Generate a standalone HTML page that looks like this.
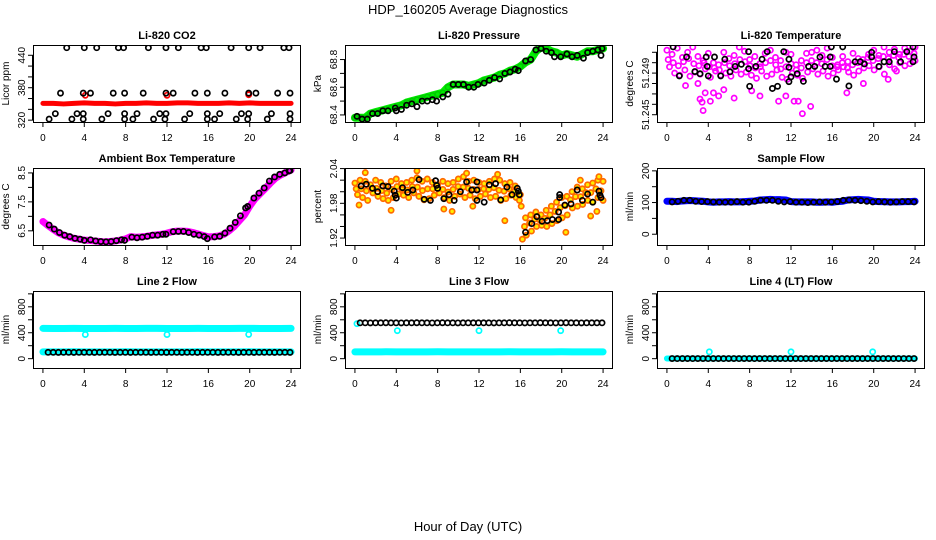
<!DOCTYPE html>
<html><head><meta charset="utf-8">
<style>
body{margin:0;background:#fff;}
svg{display:block;font-family:"Liberation Sans",Arial,sans-serif;}
</style></head>
<body>
<svg id="chart" width="936" height="540" viewBox="0 0 936 540" xmlns="http://www.w3.org/2000/svg">
<rect width="936" height="540" fill="#fff"/>
<text x="468" y="14" text-anchor="middle" font-size="13">HDP_160205  Average Diagnostics</text>
<text x="468" y="531" text-anchor="middle" font-size="13">Hour of Day (UTC)</text>
</svg>
<script>
// ---------- data ----------
const xTicks=[0,4,8,12,16,20,24];
// CO2
const co2BlackX=[2.3,4.0,5.2,7.3,7.8,10.2,11.9,13.1,15.3,15.8,18.2,19.9,21.0,23.3,23.8,
 1.7,3.9,4.6,6.8,7.9,9.7,11.9,12.6,14.7,15.9,17.6,19.9,20.6,22.7,23.9,
 1.2,3.3,3.9,6.3,7.9,9.1,11.3,11.9,14.2,15.9,17.1,19.2,19.9,22.1,23.9,
 0.6,2.8,3.9,5.7,7.9,8.7,10.7,11.8,13.7,15.9,16.6,18.7,19.8,21.7,23.9];
const co2BlackY=[454,454,454,454,454,454,454,454,454,454,454,454,454,454,454,
 370,370,370,370,370,370,370,370,370,370,370,370,370,370,370,
 332,332,332,332,332,332,332,332,332,332,332,332,332,332,332,
 322,322,322,322,322,322,322,322,322,322,322,322,322,322,322];
const co2Red=[351,351,350,351,352,351,351,350,351,351,352,351,351,352,352,351,351,351,352,351,352,351,351,351,351];
const co2RedSpikeX=[4.1,12.0,19.9];
const co2RedSpikeY=[366,366,367];
// Pressure
const presBlackX=[0.2,0.7,1.2,1.7,2.2,2.7,3.2,3.9,4.0,4.5,5.0,5.5,6.0,6.5,7.0,7.5,7.9,8.5,9.0,9.5,10.0,10.5,11.0,11.5,11.9,12.5,13.0,13.5,14.0,14.5,15.0,15.5,15.8,16.5,17.0,17.5,18.0,18.5,19.0,19.3,19.9,20.5,21.0,21.5,22.1,22.5,23.0,23.5,23.8,23.9];
const presBlackY=[68.39,68.37,68.37,68.41,68.41,68.43,68.43,68.45,68.43,68.44,68.47,68.48,68.46,68.5,68.5,68.51,68.5,68.53,68.55,68.62,68.62,68.62,68.6,68.6,68.62,68.63,68.65,68.67,68.66,68.7,68.71,68.73,68.72,68.79,68.8,68.87,68.88,68.86,68.85,68.82,68.82,68.84,68.82,68.83,68.81,68.85,68.86,68.87,68.83,68.88];
const presGreen=[68.38,68.38,68.38,68.41,68.42,68.43,68.44,68.45,68.46,68.47,68.49,68.5,68.51,68.52,68.53,68.54,68.55,68.56,68.6,68.62,68.62,68.62,68.61,68.62,68.63,68.65,68.66,68.67,68.69,68.7,68.72,68.73,68.75,68.78,68.8,68.86,68.89,68.88,68.86,68.85,68.83,68.84,68.83,68.82,68.84,68.86,68.86,68.87,68.88];
// Li-820 temperature
const tempBlackX=[0.6,1.2,1.9,2.7,3.2,3.8,3.9,4.0,4.6,5.2,5.6,6.1,6.6,7.2,7.9,7.9,8.0,8.6,9.2,9.7,10.2,10.7,11.3,11.8,11.8,11.8,12.0,12.6,13.2,13.7,14.3,14.8,15.3,15.8,15.9,15.8,16.4,17.0,17.6,18.2,18.7,19.1,19.8,19.8,20.5,21.0,21.5,22.0,22.6,23.2,23.8,23.9,23.8];
const tempBlackY=[51.25152,51.24873,51.25055,51.24915,51.24894,51.25055,51.24964,51.24873,51.25055,51.24873,51.25033,51.24912,51.24964,51.24985,51.24942,51.25106,51.24773,51.24964,51.25033,51.25106,51.24752,51.24773,51.25106,51.25033,51.24955,51.24818,51.24864,51.24894,51.24821,51.24964,51.24964,51.25055,51.24964,51.24964,51.25152,51.25055,51.24842,51.25152,51.24776,51.25009,51.25009,51.24988,51.25100,51.25055,51.24964,51.25009,51.25009,51.25106,51.25009,51.25106,51.25152,51.25055,51.25009];
const tempMagA=[51.2512,51.2508,51.2514,51.2505,51.2510,51.2515,51.2506,51.2502,51.2509,51.2500,51.2498,51.2510,51.2504,51.2507,51.2515,51.2511,51.2503,51.2506,51.2499,51.2509,51.2512,51.2505,51.2502,51.2510,51.2508,51.2498,51.2502,51.2509,51.2510,51.2512,51.2507,51.2514,51.2505,51.2498,51.2506,51.2501,51.2509,51.2504,51.2500,51.2508,51.2512,51.2507,51.2515,51.2510,51.2513,51.2508,51.2514,51.2511,51.2515];
const tempMagB=[51.2496,51.2490,51.2488,51.2493,51.2487,51.2491,51.2489,51.2494,51.2486,51.2492,51.2488,51.2490,51.2487,51.2493,51.2489,51.2491,51.2488,51.2485,51.2492,51.2487,51.2489,51.2493,51.2486,51.2484,51.2490,51.2488,51.2485,51.2491,51.2494,51.2489,51.2492,51.2487,51.2490,51.2493,51.2496,51.2491,51.2488,51.2492,51.2495,51.2497,51.2493,51.2496,51.2489,51.2498,51.2494,51.2500,51.2497,51.2499,51.2502];
const tempMagC=[51.2503,51.2500,51.2497,51.2501,51.2504,51.2499,51.2497,51.2500,51.2496,51.2495,51.2493,51.2500,51.2497,51.2499,51.2503,51.2501,51.2497,51.2495,51.2496,51.2500,51.2502,51.2498,51.2494,51.2496,51.2499,51.2493,51.2495,51.2500,51.2502,51.2500,51.2499,51.2503,51.2497,51.2496,51.2500,51.2495,51.2498,51.2500,51.2503,51.2505,51.2502,51.2504,51.2506,51.2504,51.2507,51.2505,51.2508,51.2506,51.2509];
const tempOutX=[1.8,3.0,3.2,3.4,3.5,3.7,4.2,4.5,5.0,5.5,6.5,8.2,9.0,10.8,11.5,12.3,12.7,13.1,13.9,17.4,19.0,21.4,22.2];
const tempOutY=[51.2478,51.2480,51.2465,51.2462,51.2454,51.2471,51.2463,51.2471,51.2468,51.2474,51.2466,51.2473,51.2468,51.2463,51.2468,51.2463,51.2463,51.2451,51.2458,51.2471,51.2480,51.2484,51.2492];
// Ambient box temperature
const ambBlackX=[0.6,1.1,1.6,2.1,2.6,3.1,3.6,4.0,4.6,5.1,5.6,6.1,6.6,7.1,7.6,7.9,8.6,9.1,9.6,10.1,10.6,11.1,11.6,11.9,12.6,13.1,13.6,14.1,14.6,15.1,15.6,15.9,16.6,17.1,17.6,18.1,18.6,19.1,19.6,19.8,20.4,20.9,21.4,21.9,22.4,22.9,23.4,23.8,23.9];
const ambBlackY=[6.70,6.56,6.44,6.35,6.30,6.24,6.21,6.17,6.19,6.15,6.13,6.12,6.13,6.16,6.19,6.17,6.28,6.26,6.28,6.31,6.35,6.35,6.38,6.38,6.47,6.48,6.48,6.44,6.38,6.35,6.30,6.23,6.29,6.31,6.42,6.59,6.79,7.02,7.29,7.34,7.63,7.80,7.98,8.22,8.36,8.45,8.50,8.57,8.58];
const ambMag=[6.82,6.68,6.55,6.43,6.35,6.29,6.24,6.21,6.18,6.17,6.15,6.13,6.12,6.13,6.15,6.18,6.22,6.30,6.28,6.29,6.31,6.34,6.36,6.38,6.42,6.47,6.49,6.49,6.48,6.44,6.39,6.34,6.29,6.30,6.32,6.38,6.50,6.65,6.85,7.05,7.35,7.60,7.78,7.96,8.15,8.32,8.43,8.52,8.60];
// Gas stream RH
const rhBlackX=[0.6,1.1,1.7,2.2,2.7,3.2,3.8,3.9,4.0,4.6,5.1,5.6,6.2,6.7,7.3,7.8,7.9,8.0,8.6,9.1,9.6,10.2,10.8,11.3,11.8,11.8,11.8,12.5,13.0,13.6,14.1,14.7,15.2,15.7,15.8,15.9,16.5,17.1,17.6,18.1,18.6,19.1,19.7,19.7,19.8,19.8,20.3,20.9,21.5,22.0,22.5,23.0,23.6,23.7,23.8];
const rhBlackY=[2.010,2.013,2.006,2.000,2.010,2.009,2.001,1.994,1.989,2.007,1.999,2.003,2.021,1.987,1.985,2.019,2.011,2.006,1.988,1.995,1.985,2.000,2.017,2.003,2.017,2.003,1.985,1.982,2.012,2.014,1.986,2.008,1.995,2.006,2.001,1.995,1.930,1.945,1.957,1.949,1.950,1.952,1.952,1.965,1.995,1.990,1.977,1.979,2.003,1.985,1.996,1.982,2.001,1.994,1.990];
const rhOrgA=[2.015,2.020,2.018,2.012,2.020,2.016,2.010,2.018,2.022,2.014,2.016,2.020,2.024,2.018,2.022,2.016,2.012,2.018,2.014,2.016,2.022,2.026,2.018,2.020,2.016,2.014,2.018,2.022,2.020,2.014,2.016,2.010,1.995,1.955,1.960,1.965,1.960,1.968,1.975,1.982,1.990,1.992,2.000,2.008,2.005,2.012,2.015,2.020,2.018];
const rhOrgB=[1.995,1.990,1.985,1.998,1.992,1.988,1.985,1.990,1.996,1.994,1.990,1.998,1.992,1.986,1.988,1.994,1.998,1.990,1.985,1.992,1.996,1.990,1.994,1.988,1.992,1.996,1.990,1.992,1.985,1.988,1.994,1.990,1.975,1.925,1.932,1.940,1.942,1.940,1.945,1.950,1.955,1.960,1.972,1.975,1.978,1.985,1.982,1.990,1.985];
const rhOutX=[0.4,1.0,3.5,6.0,8.6,9.4,10.8,11.4,13.8,14.5,16.2,20.4,22.8,23.4,21.8,23.6];
const rhOutY=[1.977,2.033,1.968,2.036,1.970,1.966,2.032,1.975,2.030,1.950,1.918,1.930,1.958,1.966,2.020,2.026];
// Sample flow
const sfBlue=[104,104,103,105,106,106,105,104,102,101,102,102,103,102,102,103,104,105,108,109,110,109,109,108,103,102,102,102,102,101,101,102,101,103,104,108,109,110,109,108,104,103,103,102,102,102,103,103,104];
const sfBlack=[102,104,107,107,104,103,103,102,101,101,101,103,101,101,104,107,107,107,104,102,103,101,101,100,101,102,101,102,103,107,108,107,106,104,102,103,102,101,102,103,103,102];
// Line flows
const l2CyanHigh=[468,466,465,467,466,465,466,467,465,466,468,467,466,465,466,467,466,465,466,467,468,466,465,466,467];
const l2CyanLow=[105,104,105,106,105,104,105,105,106,105,104,105,105,104,105,106,105,104,105,105,106,105,104,105,105];
const l2Black=[98,98,97,98,98,97,98,98,98,97,98,98,98,97,98,98,97,98,98,98,97,98,98,97,98,98,97,98,98,97,98,98,98,97,98,98,98,97,98,98,97,98,98,98,97,98,98,97];
const l2DipX=[4.1,12.0,19.9];
const l2DipY=[372,372,374];
const l3Black=[553,553,552,553,553,554,553,553,552,553,553,554,553,553,552,553,554,553,553,552,553,553,553,553,553,553,552,553,553,554,553,553,552,553,553,554,553,553,552,553,554,553,553,552,553,553,553,553];
const l3CyanStart=[540];
const l3CyanLow=[105,104,105,106,105,104,105,105,106,105,104,105,105,104,105,106,105,104,105,105,106,105,104,105,105];
const l3DipX=[4.1,12.0,19.9];
const l3DipY=[432,432,432];
const l4Black=[2,1,2,2,1,2,2,1,2,2,1,2,2,1,2,2,1,2,2,1,2,2,1,2,2,1,2,2,1,2,2,1,2,2,1,2,2,1,2,2,1,2,2,1,2,2,1,2];
const l4Cyan=[3,3,2,3,3,3,2,3,3,3,2,3,3,3,2,3,3,3,2,3,3,3,2,3,3];
const l4SpikeX=[4.1,12.0,19.9];
const l4SpikeY=[105,105,105];

// ---------- drawing ----------
const NS="http://www.w3.org/2000/svg";
const svg=document.getElementById('chart');
const colLeft=[33,345,657], rowTop=[45,168,291], PW=268, PH=77;
function mk(tag,attrs,parent){const e=document.createElementNS(NS,tag);for(const k in attrs)e.setAttribute(k,attrs[k]);(parent||svg).appendChild(e);return e;}
function seqX(n,a,b){const r=[];for(let i=0;i<n;i++)r.push(a+(b-a)*i/(n-1));return r;}

function panel(id,col,row,title,ylab,ylo,yhi,yticks,ylabels){
  const L=colLeft[col],T=rowTop[row];
  const g=mk('g',{});
  
  
  const xs=h=>L+(h+0.96)/25.92*PW;
  const ys=v=>T+PH-(v-ylo)/(yhi-ylo)*PH;
  const t=mk('text',{x:L+PW/2,y:T-6,'text-anchor':'middle','font-size':11,'font-weight':'bold'},g);
  t.textContent=title;
  
  
  const yl=mk('text',{x:0,y:0,transform:`translate(${L-24},${T+PH/2}) rotate(-90)`,'text-anchor':'middle','font-size':10},g);
  yl.textContent=ylab;
  
  
  const ax=mk('g',{stroke:'#000','stroke-width':1},g);
  
  
  mk('line',{x1:xs(0),x2:xs(24),y1:T+PH+0.5,y2:T+PH+0.5},ax);
  xTicks.forEach(h=>{
    mk('line',{x1:xs(h),x2:xs(h),y1:T+PH,y2:T+PH+5},ax);
    const tl=mk('text',{x:xs(h),y:T+PH+19,'text-anchor':'middle','font-size':10,stroke:'none'},g);
    tl.textContent=h;
    
    
  });
  mk('line',{x1:L-0.5,x2:L-0.5,y1:ys(yticks[0]),y2:ys(yticks[yticks.length-1])},ax);
  yticks.forEach(v=>mk('line',{x1:L-5,x2:L,y1:ys(v),y2:ys(v)},ax));
  ylabels.forEach(v=>{
    const tl=mk('text',{x:0,y:0,transform:`translate(${L-8},${ys(v)}) rotate(-90)`,'text-anchor':'middle','font-size':10},g);
    tl.textContent=String(v);
    
    
  });
  const clipId='clip'+id;
  const cp=mk('clipPath',{id:clipId},g);mk('rect',{x:L,y:T,width:PW,height:PH},cp);
  const marks=mk('g',{'clip-path':`url(#${clipId})`},g);
  
  
  mk('rect',{x:L+0.5,y:T+0.5,width:PW-1,height:PH,fill:'none',stroke:'#000','stroke-width':1},g);
  const P={
    pts(X,Y,color,name,fill){X.forEach((h,i)=>{const c=mk('circle',{cx:xs(h),cy:ys(Y[i]),r:2.6,fill:fill||'none',stroke:color,'stroke-width':1.7},marks);
      
      });},
    band(Y,color,w,name,a,b){const X=seqX(Y.length,a===undefined?0:a,b===undefined?24:b);
      const pl=mk('polyline',{points:X.map((h,i)=>xs(h)+','+ys(Y[i])).join(' '),fill:'none',stroke:color,'stroke-width':w,'stroke-linejoin':'round','stroke-linecap':'round'},marks);
      
      },
    even(Y,a,b){return seqX(Y.length,a,b);}
  };
  return P;
}

// Row 1
let p=panel('co2',0,0,'Li-820 CO2','Licor ppm',316.6,459,[320,340,360,380,400,420,440],[320,380,440]);
p.band(co2Red,'#ff0000',5,'co2-red-series');
p.pts(co2RedSpikeX,co2RedSpikeY,'#ff0000','co2-red-point');
p.pts(co2BlackX,co2BlackY,'#000','co2-black-point');

p=panel('pressure',1,0,'Li-820 Pressure','kPa',68.349,68.905,[68.4,68.5,68.6,68.7,68.8],[68.4,68.6,68.8]);
p.band(presGreen,'#00ee00',8,'pressure-green-series');
p.pts(p.even(presGreen,0,24),presGreen,'#00cc00','pressure-green-point');
p.pts(presBlackX,presBlackY,'#000','pressure-black-point');

p=panel('li820temp',2,0,'Li-820 Temperature','degrees C',51.2443,51.2517,[51.245,51.246,51.247,51.248,51.249,51.250,51.251],[51.245,51.249]);
p.pts(p.even(tempMagA,0,24),tempMagA,'#ff00ff','temp-magenta-point');
p.pts(p.even(tempMagB,0.25,24),tempMagB,'#ff00ff','temp-magenta-point');
p.pts(p.even(tempMagC,0.12,23.9),tempMagC,'#ff00ff','temp-magenta-point');
p.pts(tempOutX,tempOutY,'#ff00ff','temp-magenta-point');
p.pts(tempBlackX,tempBlackY,'#000','temp-black-point');

// Row 2
p=panel('ambient',0,1,'Ambient Box Temperature','degrees C',6.01,8.67,[6.5,7.0,7.5,8.0,8.5],[6.5,7.5,8.5]);
p.band(ambMag,'#ff00ff',7,'ambient-magenta-series');
p.pts(ambBlackX,ambBlackY,'#000','ambient-black-point');

p=panel('rh',1,1,'Gas Stream RH','percent',1.908,2.041,[1.92,1.94,1.96,1.98,2.00,2.02,2.04],[1.92,1.98,2.04]);
p.pts(p.even(rhOrgA,0,24),rhOrgA,'#ff6a00','rh-orange-point','#ffee00');
p.pts(p.even(rhOrgB,0.25,24),rhOrgB,'#ff6a00','rh-orange-point','#ffee00');
p.pts(p.even(rhOrgA,0.12,23.8),rhOrgA.map((v,i)=>(v+rhOrgB[i])/2),'#ff6a00','rh-orange-point','#ffee00');
p.pts(rhOutX,rhOutY,'#ff6a00','rh-orange-point','#ffee00');
p.pts(rhBlackX,rhBlackY,'#000','rh-black-point');

p=panel('sampleflow',2,1,'Sample Flow','ml/min',-34,209,[0,50,100,150,200],[0,100,200]);
p.band(sfBlue,'#0000ff',7,'sampleflow-blue-series');
p.pts(p.even(sfBlack,0.5,23.9),sfBlack,'#000','sampleflow-black-point');

// Row 3
p=panel('line2',0,2,'Line 2 Flow','ml/min',-144,1044,[0,200,400,600,800,1000],[0,400,800]);
p.band(l2CyanHigh,'#00ffff',7,'line2-cyan-high');
p.band(l2CyanLow,'#00ffff',7,'line2-cyan-low');
p.pts(l2DipX,l2DipY,'#00ffff','line2-cyan-point');
p.pts(p.even(l2Black,0.5,23.9),l2Black,'#000','line2-black-point');

p=panel('line3',1,2,'Line 3 Flow','ml/min',-144,1044,[0,200,400,600,800,1000],[0,400,800]);
p.band(l3CyanLow,'#00ffff',7,'line3-cyan-low');
p.pts([0.2],l3CyanStart,'#00ffff','line3-cyan-point');
p.pts(l3DipX,l3DipY,'#00ffff','line3-cyan-point');
p.pts(p.even(l3Black,0.5,23.9),l3Black,'#000','line3-black-point');

p=panel('line4',2,2,'Line 4 (LT) Flow','ml/min',-144,1044,[0,200,400,600,800,1000],[0,400,800]);
p.band(l4Cyan,'#00ffff',6,'line4-cyan-series');
p.pts(l4SpikeX,l4SpikeY,'#00ffff','line4-cyan-point');
p.pts(p.even(l4Black,0.5,23.9),l4Black,'#000','line4-black-point');
</script>
</body></html>
